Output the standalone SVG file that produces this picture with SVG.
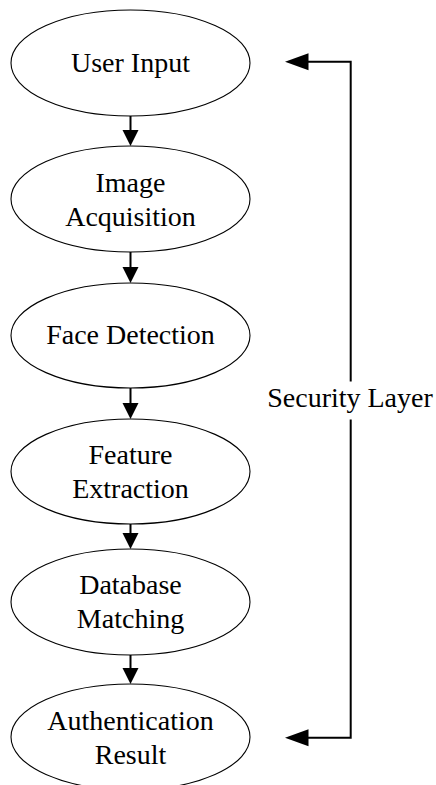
<svg xmlns="http://www.w3.org/2000/svg" width="436" height="785" viewBox="0 0 436 785">
  <style>
    .node ellipse { fill: #ffffff; stroke: #000000; stroke-width: 1.1; }
    text { font-family: 'Liberation Serif', 'Times New Roman', Times, 'DejaVu Serif', serif; font-size: 28px; fill: #000000; text-anchor: middle; }
    .edge { fill: none; stroke: #000000; stroke-width: 2; }
    .head { fill: #000000; stroke: none; }
  </style>
  <rect width="436" height="785" fill="#ffffff"/>

  <!-- pipeline stages -->
  <g id="user-input" class="node" font-family="Liberation Serif, serif">
    <ellipse cx="130.5" cy="63" rx="119.5" ry="53"/>
    <text x="130.5" y="72">User Input</text>
  </g>
  <g id="image-acquisition" class="node" font-family="Liberation Serif, serif">
    <ellipse cx="130.5" cy="199" rx="119.5" ry="53"/>
    <text x="130.5" y="191.5">Image</text>
    <text x="130.5" y="225.5">Acquisition</text>
  </g>
  <g id="face-detection" class="node" font-family="Liberation Serif, serif">
    <ellipse cx="130.5" cy="335.5" rx="119.5" ry="52.5"/>
    <text x="130.5" y="344">Face Detection</text>
  </g>
  <g id="feature-extraction" class="node" font-family="Liberation Serif, serif">
    <ellipse cx="130.5" cy="471.5" rx="119.5" ry="52.5"/>
    <text x="130.5" y="463.5">Feature</text>
    <text x="130.5" y="497.5">Extraction</text>
  </g>
  <g id="database-matching" class="node" font-family="Liberation Serif, serif">
    <ellipse cx="130.5" cy="602" rx="119.5" ry="53"/>
    <text x="130.5" y="594">Database</text>
    <text x="130.5" y="628">Matching</text>
  </g>
  <g id="authentication-result" class="node" font-family="Liberation Serif, serif">
    <ellipse cx="130.5" cy="737" rx="119.5" ry="53"/>
    <text x="130.5" y="729.5">Authentication</text>
    <text x="130.5" y="763.5">Result</text>
  </g>

  <!-- connectors -->
  <g id="connectors">
    <line class="edge" x1="130.5" y1="116" x2="130.5" y2="131"/>
    <polygon class="head" points="122.5,130 138.5,130 130.5,146"/>
    <line class="edge" x1="130.5" y1="252" x2="130.5" y2="268"/>
    <polygon class="head" points="122.5,267 138.5,267 130.5,283"/>
    <line class="edge" x1="130.5" y1="388" x2="130.5" y2="404"/>
    <polygon class="head" points="122.5,403 138.5,403 130.5,419"/>
    <line class="edge" x1="130.5" y1="524" x2="130.5" y2="534"/>
    <polygon class="head" points="122.5,533 138.5,533 130.5,549"/>
    <line class="edge" x1="130.5" y1="655" x2="130.5" y2="669"/>
    <polygon class="head" points="122.5,668 138.5,668 130.5,684"/>

    <!-- security layer loop -->
    <path class="edge" d="M307,61.7 H350.7 V381.5"/>
    <path class="edge" d="M350.7,419.5 V737.7 H307"/>
    <polygon class="head" points="285,61.7 308.5,53.2 308.5,70.2"/>
    <polygon class="head" points="285,737.7 308.5,729.2 308.5,746.2"/>
  </g>

  <text id="security-layer" x="350" y="407" font-family="Liberation Serif, serif">Security Layer</text>
</svg>
